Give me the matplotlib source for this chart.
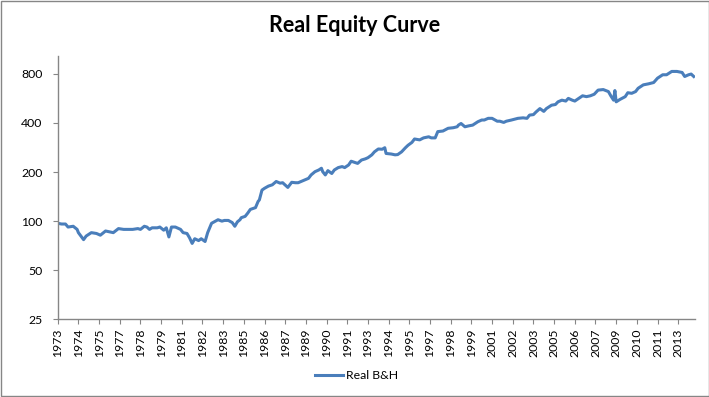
import numpy as np
import matplotlib
matplotlib.use('Agg')
import matplotlib.pyplot as plt
import matplotlib.patches as patches

# month index (0 = Jan 1973) and real equity value
months = [0, 3, 6, 8, 12, 15, 16, 20, 22, 26, 30, 33, 37, 40, 43, 47, 51, 55, 58, 62,
          64, 67, 69, 71, 73, 77, 79, 82, 84, 86, 88, 91, 95, 97, 100, 102, 104, 106, 109, 111,
          114, 116, 119, 122, 124, 127, 129, 132, 135, 137, 139, 141, 142, 145, 147, 149, 153, 155, 156, 158,
          160, 163, 166, 169, 172, 174, 178, 181, 184, 186, 189, 191, 194, 196, 199, 202, 204, 205, 207, 209,
          212, 214, 217, 220, 222, 225, 227, 230, 232, 235, 238, 240, 243, 245, 248, 251, 253, 254, 258, 261,
          263, 266, 269, 271, 274, 276, 280, 283, 287, 289, 292, 294, 298, 302, 306, 309, 310, 312, 315, 318,
          321, 325, 328, 330, 333, 336, 340, 342, 345, 347, 351, 356, 360, 363, 365, 368, 370, 373, 376, 378,
          382, 385, 387, 390, 393, 395, 398, 400, 403, 406, 409, 412, 415, 418, 422, 426, 428, 430, 431, 432,
          435, 439, 441, 444, 447, 449, 453, 457, 461, 464, 468, 471, 475, 479, 483, 485, 488, 490, 492]
values = [97, 96, 96, 92, 93, 89, 85, 77, 81, 85, 84, 82, 87, 86, 85, 90, 89, 89, 89, 90,
          89, 93, 92, 89, 91, 91, 92, 88, 91, 80, 92, 92, 89, 85, 84, 79, 73, 78, 76, 78,
          75, 85, 97, 100, 102, 100, 101, 101, 98, 93, 99, 102, 105, 107, 112, 118, 121, 132, 135, 155,
          159, 164, 167, 175, 171, 172, 161, 173, 172, 172, 176, 179, 183, 192, 201, 206, 211, 201, 192, 204,
          196, 206, 213, 216, 213, 221, 233, 229, 226, 237, 241, 245, 255, 266, 277, 276, 282, 260, 258, 255,
          256, 266, 282, 292, 304, 319, 315, 324, 329, 324, 324, 354, 357, 371, 374, 379, 388, 397, 379, 384,
          388, 407, 417, 417, 427, 427, 410, 410, 403, 410, 417, 427, 430, 427, 447, 450, 467, 490, 471, 490,
          514, 519, 539, 552, 545, 566, 552, 545, 566, 587, 580, 587, 600, 636, 641, 623, 584, 552, 632, 539,
          558, 580, 613, 608, 623, 653, 685, 695, 708, 753, 790, 790, 828, 828, 816, 771, 790, 798, 771]

tick_months = list(range(0, 481, 16))
tick_labels = ['1973', '1974', '1975', '1977', '1978', '1979', '1981', '1982', '1983', '1985',
               '1986', '1987', '1989', '1990', '1991', '1993', '1994', '1995', '1997', '1998',
               '1999', '2001', '2002', '2003', '2005', '2006', '2007', '2009', '2010', '2011', '2013']
y_ticks = [25, 50, 100, 200, 400, 800]

plt.rcParams['font.family'] = ['Lato', 'DejaVu Sans']
grey = '#868686'

fig = plt.figure(figsize=(7.09, 3.97), dpi=100)
ax = fig.add_axes([0.0814, 0.1957, 0.8989, 0.6633])

ax.plot(months, values, color='#4A7EBB', lw=2.2, label='Real B&H', solid_joinstyle='round')

ax.set_yscale('log', base=2)
ax.set_ylim(25, 1030)
ax.set_yticks(y_ticks)
ax.set_yticklabels([str(v) for v in y_ticks])
ax.minorticks_off()
ax.set_xlim(0, 493)
ax.set_xticks(tick_months)
ax.set_xticklabels(tick_labels, rotation=90)

for s in ['top', 'right']:
    ax.spines[s].set_visible(False)
for s in ['left', 'bottom']:
    ax.spines[s].set_color(grey)
    ax.spines[s].set_linewidth(1)
ax.tick_params(axis='y', direction='out', length=3.3, color=grey, labelsize=8.8, pad=7.5)
ax.tick_params(axis='x', direction='out', length=3.3, color=grey, labelsize=8.8, pad=3.5)

fig.text(0.5, 0.937, 'Real Equity Curve', ha='center', va='center', fontsize=15.5, fontweight='bold')
fig.legend(loc='center', bbox_to_anchor=(0.503, 0.054), frameon=False, fontsize=8.8,
           handlelength=2.3, handletextpad=0.3)

fig.patches.append(patches.Rectangle((0.0008, 0.0015), 0.9985, 0.997, transform=fig.transFigure,
                                     fill=False, edgecolor=grey, lw=1))

fig.savefig('out.png', dpi=100)
